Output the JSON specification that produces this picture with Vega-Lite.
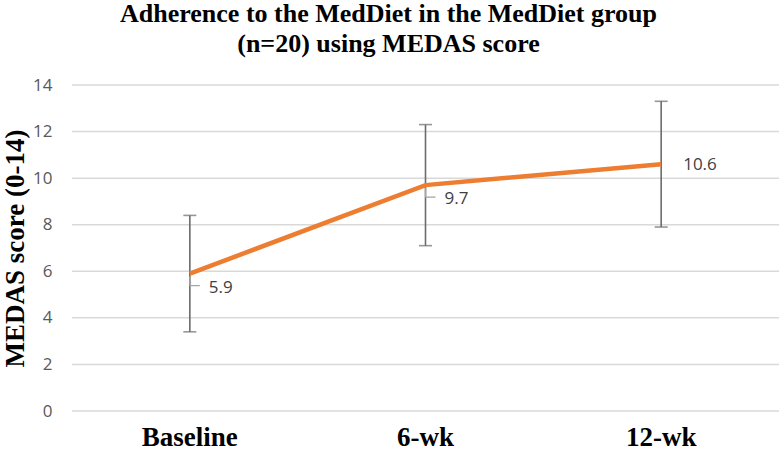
{
  "$schema": "https://vega.github.io/schema/vega-lite/v6.json",
  "width": 707,
  "height": 326,
  "autosize": {"type": "none"},
  "padding": {"left": 72, "top": 85, "right": 0, "bottom": 41},
  "background": "white",
  "title": {
    "text": ["Adherence to the MedDiet in the MedDiet group", "(n=20) using MEDAS score"],
    "font": "Liberation Serif",
    "fontSize": 26,
    "fontWeight": "bold",
    "color": "#000000",
    "anchor": "middle",
    "frame": "group",
    "dx": -37,
    "offset": 19,
    "lineHeight": 30
  },
  "config": {
    "view": {"stroke": null},
    "axis": {"grid": false}
  },
  "data": {
    "values": [
      {"time": "Baseline", "mean": 5.9, "low": 3.4, "high": 8.4},
      {"time": "6-wk", "mean": 9.7, "low": 7.1, "high": 12.3},
      {"time": "12-wk", "mean": 10.6, "low": 7.9, "high": 13.3}
    ]
  },
  "encoding": {
    "x": {
      "field": "time",
      "type": "nominal",
      "sort": ["Baseline", "6-wk", "12-wk"],
      "scale": {"paddingInner": 0, "paddingOuter": 0},
      "axis": {
        "title": null,
        "labelAngle": 0,
        "labelFont": "Liberation Serif",
        "labelFontSize": 27,
        "labelFontWeight": "bold",
        "labelColor": "#000000",
        "labelBaseline": "alphabetic",
        "labelPadding": 34,
        "ticks": false,
        "domain": false
      }
    }
  },
  "layer": [
    {
      "mark": {"type": "rule", "color": "#d9d9d9", "strokeWidth": 1.5},
      "data": {"values": [{"v": 0}, {"v": 2}, {"v": 4}, {"v": 6}, {"v": 8}, {"v": 10}, {"v": 12}, {"v": 14}]},
      "encoding": {
        "x": null,
        "y": {
          "field": "v",
          "type": "quantitative",
          "scale": {"domain": [0, 14], "nice": false},
          "axis": {
            "values": [0, 2, 4, 6, 8, 10, 12, 14],
            "title": "MEDAS score (0-14)",
            "titleFont": "Liberation Serif",
            "titleFontSize": 27,
            "titleFontWeight": "bold",
            "titleColor": "#000000",
            "titleAngle": -90,
            "titleX": -49,
            "titleY": 163,
            "titleAlign": "center",
            "titleBaseline": "alphabetic",
            "labelFont": "Open Sans",
            "labelFontSize": 17,
            "labelColor": "#595959",
            "labelPadding": 20,
            "ticks": false,
            "domain": false
          }
        }
      }
    },
    {
      "mark": {"type": "rule", "color": "#6b6b6b", "strokeWidth": 1.6},
      "encoding": {
        "y": {"field": "low", "type": "quantitative"},
        "y2": {"field": "high"}
      }
    },
    {
      "mark": {"type": "tick", "color": "#6b6b6b", "thickness": 1.6, "size": 13, "orient": "horizontal"},
      "encoding": {"y": {"field": "low", "type": "quantitative"}}
    },
    {
      "mark": {"type": "tick", "color": "#6b6b6b", "thickness": 1.6, "size": 13, "orient": "horizontal"},
      "encoding": {"y": {"field": "high", "type": "quantitative"}}
    },
    {
      "transform": [{"filter": "datum.time !== '12-wk'"}],
      "mark": {"type": "rule", "color": "#a6a6a6", "strokeWidth": 1.3, "yOffset": 3, "y2Offset": 12},
      "encoding": {
        "y": {"field": "mean", "type": "quantitative"},
        "y2": {"field": "mean"}
      }
    },
    {
      "transform": [{"filter": "datum.time !== '12-wk'"}],
      "mark": {"type": "rule", "color": "#a6a6a6", "strokeWidth": 1.3, "yOffset": 12, "x2Offset": 10},
      "encoding": {
        "y": {"field": "mean", "type": "quantitative"},
        "x2": {"field": "time"}
      }
    },
    {
      "mark": {"type": "line", "color": "#ED7D31", "strokeWidth": 4.5},
      "encoding": {"y": {"field": "mean", "type": "quantitative"}}
    },
    {
      "transform": [{"filter": "datum.time !== '12-wk'"}],
      "mark": {"type": "text", "align": "left", "baseline": "middle", "dx": 19, "dy": 14, "font": "Open Sans", "fontSize": 17, "color": "#404040"},
      "encoding": {
        "y": {"field": "mean", "type": "quantitative"},
        "text": {"field": "mean", "type": "quantitative", "format": ".1f"}
      }
    },
    {
      "transform": [{"filter": "datum.time === '12-wk'"}],
      "mark": {"type": "text", "align": "left", "baseline": "middle", "dx": 22, "dy": 1, "font": "Open Sans", "fontSize": 17, "color": "#404040"},
      "encoding": {
        "y": {"field": "mean", "type": "quantitative"},
        "text": {"field": "mean", "type": "quantitative", "format": ".1f"}
      }
    }
  ]
}
